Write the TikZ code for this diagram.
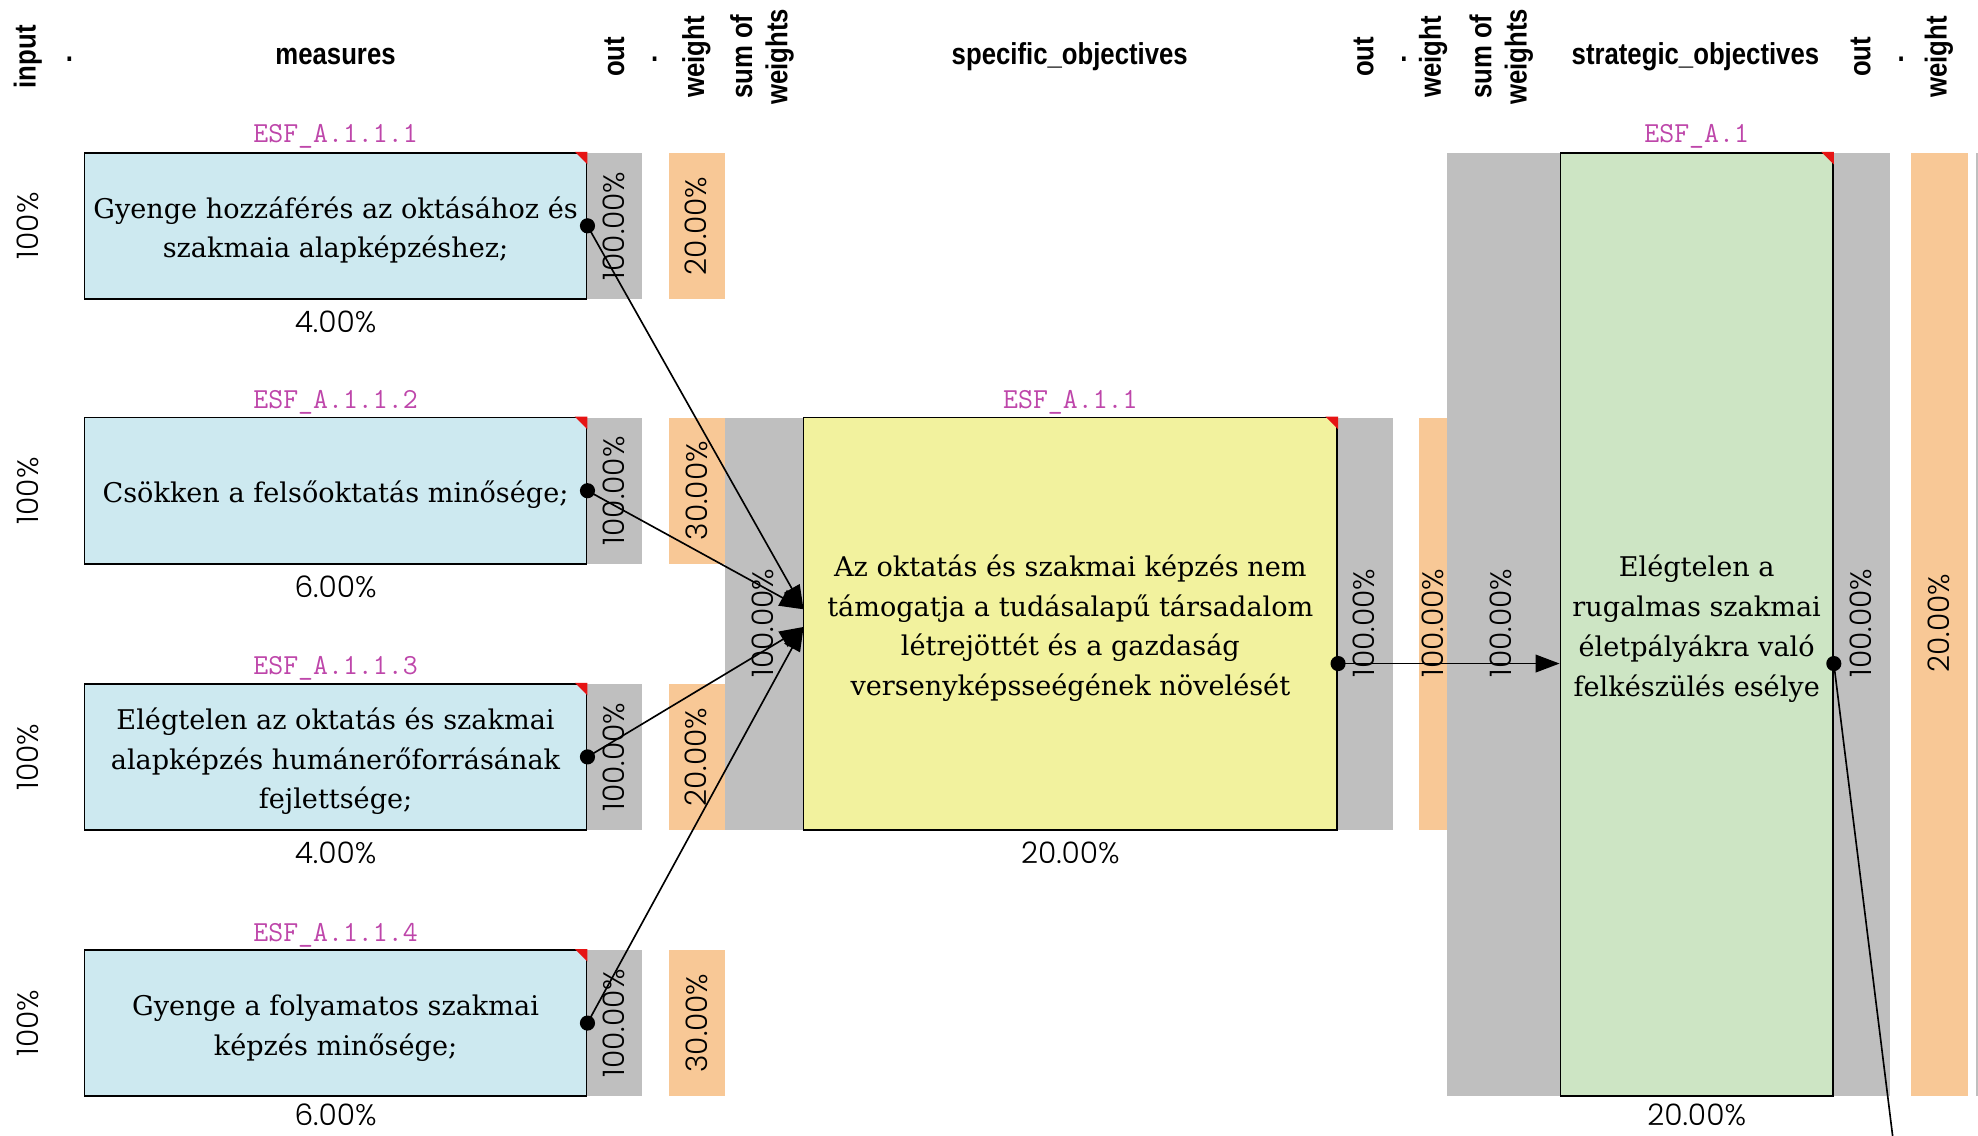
\documentclass[tikz,border=0pt]{standalone}
\usepackage{fontspec}
\setmainfont{DejaVu Serif}
\newfontfamily\hdrfont[FakeStretch=0.85]{Liberation Sans}
\IfFontExistsTF{Poppins Light}{\newfontfamily\pctfont{Poppins Light}}{\newfontfamily\pctfont{Poppins}}
\newfontfamily\idfont{Latin Modern Mono}
\usetikzlibrary{arrows.meta}
\definecolor{boxblue}{RGB}{205,233,240}
\definecolor{boxyellow}{RGB}{242,242,158}
\definecolor{boxgreen}{RGB}{205,229,196}
\definecolor{stripgray}{RGB}{191,191,191}
\definecolor{striporange}{RGB}{248,200,150}
\definecolor{idmagenta}{RGB}{190,70,170}
\definecolor{cornerred}{RGB}{230,20,20}
\tikzset{
  hdr/.style={font=\hdrfont\bfseries\fontsize{24}{28}\selectfont, inner sep=0pt, align=center},
  hdrv/.style={hdr, rotate=90},
  pct/.style={font=\pctfont\fontsize{23.5}{27}\selectfont, inner sep=0pt},
  pctv/.style={pct, rotate=90},
  idlbl/.style={font=\idfont\fontsize{23}{25}\selectfont, text=idmagenta, inner sep=0pt, anchor=base},
  box/.style={draw=black, line width=1.4pt, inner sep=2pt, align=center,
    font=\fontsize{21.5}{31.5}\selectfont},
  mbox/.style={box, fill=boxblue, minimum width=398pt, minimum height=116pt},
  conn/.style={draw=black, line width=1.3pt},
  arr/.style={conn, -{Triangle[length=19pt,width=14pt]}},
  dotmark/.style={fill=black}
}
\newcommand{\dn}{\rule{0pt}{24pt}}
\newcommand{\redcorner}[1]{\fill[cornerred] ([xshift=-10pt]#1.north east) -- (#1.north east) -- ([yshift=-10pt]#1.north east) -- cycle;}
\begin{document}
\begin{tikzpicture}[x=1pt,y=-1pt]
\useasboundingbox (0,0) rectangle (1568,900);
\fill[white] (0,0) rectangle (1568,900);

% ---- headers
\node[hdrv] (hinput) at (22,45) {input};
\node[hdr] (hdot1) at (55,47) {.};
\node[hdr] (hmeas) at (266,45) {measures};
\node[hdrv] (hout1) at (487,45) {out};
\node[hdr] (hdot2) at (519,47) {.};
\node[hdrv] (hw1) at (552,45) {weight};
\node[hdrv] (hs1) at (604,45) {sum of\\weights};
\node[hdr] (hspec) at (848,45) {specific\_objectives};
\node[hdrv] (hout2) at (1081,45) {out};
\node[hdr] (hdot3) at (1113,47) {.};
\node[hdrv] (hw2) at (1136,45) {weight};
\node[hdrv] (hs2) at (1190,45) {sum of\\weights};
\node[hdr] (hstrat) at (1344,45) {strategic\_objectives};
\node[hdrv] (hout3) at (1475,45) {out};
\node[hdr] (hdot4) at (1507,47) {.};
\node[hdrv] (hw3) at (1537,45) {weight};

% ---- strips (measures level)
\foreach \t/\b in {121/237,331/447,542/658,753/869}{
  \fill[stripgray] (465,\t) rectangle (509,\b);
  \fill[striporange] (530,\t) rectangle (575,\b);
}
% specific level
\fill[stripgray] (575,331) rectangle (637,658);
\fill[stripgray] (1060,331) rectangle (1104,658);
\fill[striporange] (1125,331) rectangle (1147,658);
% strategic level
\fill[stripgray] (1147,121) rectangle (1237,869);
\fill[stripgray] (1453,121) rectangle (1498,869);
\fill[striporange] (1515,121) rectangle (1560,869);
\fill[stripgray] (1566,121) rectangle (1568,869);

% ---- boxes
\node[mbox] (m1) at (266,179) {\dn Gyenge hozzáférés az oktásához és\\szakmaia alapképzéshez;};
\node[mbox] (m2) at (266,389) {\dn Csökken a felsőoktatás minősége;};
\node[mbox] (m3) at (266,600) {\dn Elégtelen az oktatás és szakmai\\alapképzés humánerőforrásának\\fejlettsége;};
\node[mbox] (m4) at (266,811) {\dn Gyenge a folyamatos szakmai\\képzés minősége;};
\node[box, fill=boxyellow, minimum width=423pt, minimum height=327pt] (ys) at (848.5,494.5)
  {\dn Az oktatás és szakmai képzés nem\\támogatja a tudásalapű társadalom\\létrejöttét és a gazdaság\\versenyképsseégének növelését};
\node[box, fill=boxgreen, minimum width=216pt, minimum height=748pt] (gs) at (1345,495)
  {\dn Elégtelen a\\rugalmas szakmai\\életpályákra való\\felkészülés esélye};
\redcorner{m1}\redcorner{m2}\redcorner{m3}\redcorner{m4}\redcorner{ys}\redcorner{gs}

% ---- ids
\node[idlbl] (id1) at (266,113) {ESF\_A.1.1.1};
\node[idlbl] (id2) at (266,324) {ESF\_A.1.1.2};
\node[idlbl] (id3) at (266,535) {ESF\_A.1.1.3};
\node[idlbl] (id4) at (266,746) {ESF\_A.1.1.4};
\node[idlbl] (id5) at (848.5,324) {ESF\_A.1.1};
\node[idlbl] (id6) at (1345,113) {ESF\_A.1};

% ---- percentages
\foreach \n/\y/\w/\p in {1/179/20.00/4.00,2/389/30.00/6.00,3/600/20.00/4.00,4/811/30.00/6.00}{
  \node[pctv] (in\n) at (22,\y) {100\%};
  \node[pctv] (out\n) at (487,\y) {100.00\%};
  \node[pctv] (w\n) at (552,\y) {\w\%};
}
\node[pct] (p1) at (266,255) {4.00\%};
\node[pct] (p2) at (266,465) {6.00\%};
\node[pct] (p3) at (266,676) {4.00\%};
\node[pct] (p4) at (266,884) {6.00\%};
\node[pctv] (sw1) at (605,494) {100.00\%};
\node[pctv] (yout) at (1081,494) {100.00\%};
\node[pctv] (yw) at (1136,494) {100.00\%};
\node[pctv] (sw2) at (1190,494) {100.00\%};
\node[pctv] (gout) at (1475,494) {100.00\%};
\node[pctv] (gw) at (1537,494) {20.00\%};
\node[pct] (yp) at (848.5,676) {20.00\%};
\node[pct] (gp) at (1345,884) {20.00\%};

% ---- connectors
\coordinate (tipA) at (637,483);
\coordinate (tipB) at (637,497);
\coordinate (ydot) at ([yshift=-31.5pt]ys.east);
\coordinate (gin) at (ydot -| gs.west);
\coordinate (gdot) at (gs.east |- ydot);
\coordinate (gend) at (1504,930);
\draw[arr] (m1.east) -- (tipA);
\draw[arr] (m2.east) -- (tipA);
\draw[arr] (m3.east) -- (tipB);
\draw[arr] (m4.east) -- (tipB);
\draw[arr] (ydot) -- (gin);
\draw[conn] (gdot) -- (gend);
\foreach \c in {m1.east,m2.east,m3.east,m4.east,ydot,gdot}{
  \fill[dotmark] (\c) circle[radius=6pt];
}
\end{tikzpicture}
\end{document}
